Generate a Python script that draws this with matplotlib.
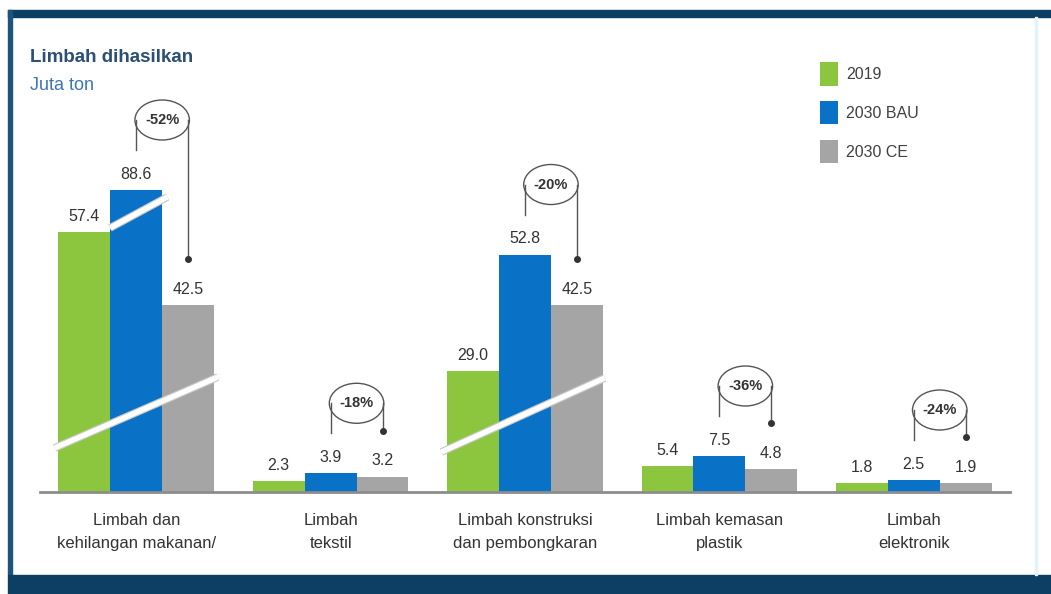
import matplotlib.pyplot as plt
import matplotlib.patheffects as pe
import matplotlib.transforms as mtransforms
from matplotlib import font_manager
from matplotlib.patches import Ellipse, Rectangle
import numpy as np

# --- data (juta ton) ---
categories = ["Limbah dan\nkehilangan makanan/", "Limbah\ntekstil",
              "Limbah konstruksi\ndan pembongkaran", "Limbah kemasan\nplastik",
              "Limbah\nelektronik"]
series = ["2019", "2030 BAU", "2030 CE"]
v2019 = [57.4, 2.3, 29.0, 5.4, 1.8]
v2030_bau = [88.6, 3.9, 52.8, 7.5, 2.5]
v2030_ce = [42.5, 3.2, 42.5, 4.8, 1.9]
changes = ["-52%", "-18%", "-20%", "-36%", "-24%"]

colors = ["#8CC63E", "#0A72C6", "#A5A5A5"]

# pick a narrow face if the system has one
names = {f.name for f in font_manager.fontManager.ttflist}
fam = "Liberation Sans Narrow" if "Liberation Sans Narrow" in names else "Liberation Sans"
plt.rcParams["font.family"] = [fam, "DejaVu Sans"]

# the original uses a "broken" value axis: tall bars are squeezed
knot_v = [0, 10, 29, 57.4, 88.6, 130]
knot_px = [0, 48, 121, 260, 302, 392]


def fwd(v):
    return np.interp(v, knot_v, knot_px)


def inv(p):
    return np.interp(p, knot_px, knot_v)


H = 392.0  # axes height in pixels
fig = plt.figure(figsize=(10.51, 5.94), dpi=100)
ax = fig.add_axes([40 / 1051, 102 / 594, 970 / 1051, H / 594])
ax.set_yscale("function", functions=(fwd, inv))
ax.set_ylim(0, 130)
ax.set_xlim(-0.495, 4.495)

x = np.arange(len(categories))
w = 0.267
bars = []
for i, vals in enumerate([v2019, v2030_bau, v2030_ce]):
    b = ax.bar(x + (i - 1) * w, vals, w, color=colors[i], label=series[i], zorder=2)
    bars.append(b)
    for xi, v in zip(x + (i - 1) * w, vals):
        ax.annotate(f"{v:.1f}", (xi, v), xytext=(0, 6), textcoords="offset points",
                    ha="center", va="bottom", fontsize=11.5, color="#333333")

# axes look
for s in ["top", "left", "right"]:
    ax.spines[s].set_visible(False)
ax.spines["bottom"].set_color("#8C8C8C")
ax.spines["bottom"].set_linewidth(2)
ax.set_yticks([])
ax.set_xticks(x)
ax.set_xticklabels(categories, fontsize=12, color="#333333", linespacing=1.7)
ax.tick_params(axis="x", length=0, pad=15)

# white break strokes across the squeezed bars
blend = mtransforms.blended_transform_factory(ax.transData, ax.transAxes)
stroke = [pe.Stroke(linewidth=5.5, foreground="#C8C8C8"), pe.Normal()]
for g, x0, x1, h0, h1 in [(0, -0.42, 0.42, 44, 115), (0, -0.135, 0.16, 264, 295),
                          (2, -0.43, 0.41, 40, 114)]:
    ax.plot([g + x0, g + x1], [h0 / H, h1 / H], color="white", lw=3.8,
            transform=blend, path_effects=stroke, zorder=3, clip_on=False,
            solid_capstyle="butt")

# change brackets: blue bar -> circle -> CE bar
for i, ch in enumerate(changes):
    xb, xg = x[i], x[i] + w
    ey = fwd(v2030_bau[i]) + 70
    ax.add_patch(Ellipse(((xb + xg) / 2, ey / H), w * 1.05, 40 / H, transform=blend,
                         fill=False, ec="#555555", lw=1.0, zorder=4, clip_on=False))
    ax.plot([xb, xb], [(fwd(v2030_bau[i]) + 40) / H, ey / H], color="#555555",
            lw=1.0, transform=blend, clip_on=False)
    ax.plot([xg, xg], [ey / H, (fwd(v2030_ce[i]) + 46) / H], color="#555555",
            lw=1.0, transform=blend, clip_on=False)
    ax.plot([xg], [(fwd(v2030_ce[i]) + 46) / H], marker="o", ms=4, color="#333333",
            transform=blend, clip_on=False)
    ax.text((xb + xg) / 2, ey / H, ch, transform=blend, ha="center", va="center",
            fontsize=10.5, fontweight="bold", color="#333333")

# titles
fig.text(30 / 1051, 1 - 57 / 594, "Limbah dihasilkan", fontsize=13.5,
         fontweight="bold", color="#2B4F77", va="center")
fig.text(30 / 1051, 1 - 86 / 594, "Juta ton", fontsize=13, color="#3C77B4",
         va="center")

fig.legend(handles=bars, labels=series, loc="upper left",
           bbox_to_anchor=(820 / 1051, 1 - 62 / 594), frameon=False,
           handlelength=1.15, handleheight=1.9, handletextpad=0.5,
           labelspacing=0.95, fontsize=11.5, labelcolor="#404040",
           borderpad=0, borderaxespad=0)

# slide frame
navy = "#0D3F65"
fig.patches.append(Rectangle((8 / 1051, 1 - 17 / 594), 1, 7 / 594,
                             transform=fig.transFigure, color=navy))
fig.patches.append(Rectangle((8 / 1051, 19 / 594), 4 / 1051, 565 / 594,
                             transform=fig.transFigure, color="#1B557F"))
fig.patches.append(Rectangle((8 / 1051, 0), 1, 19 / 594,
                             transform=fig.transFigure, color=navy))
fig.patches.append(Rectangle((1035 / 1051, 19 / 594), 2 / 1051, 558 / 594,
                             transform=fig.transFigure, color="#E4F3F7"))

fig.savefig("out.png", dpi=100)
